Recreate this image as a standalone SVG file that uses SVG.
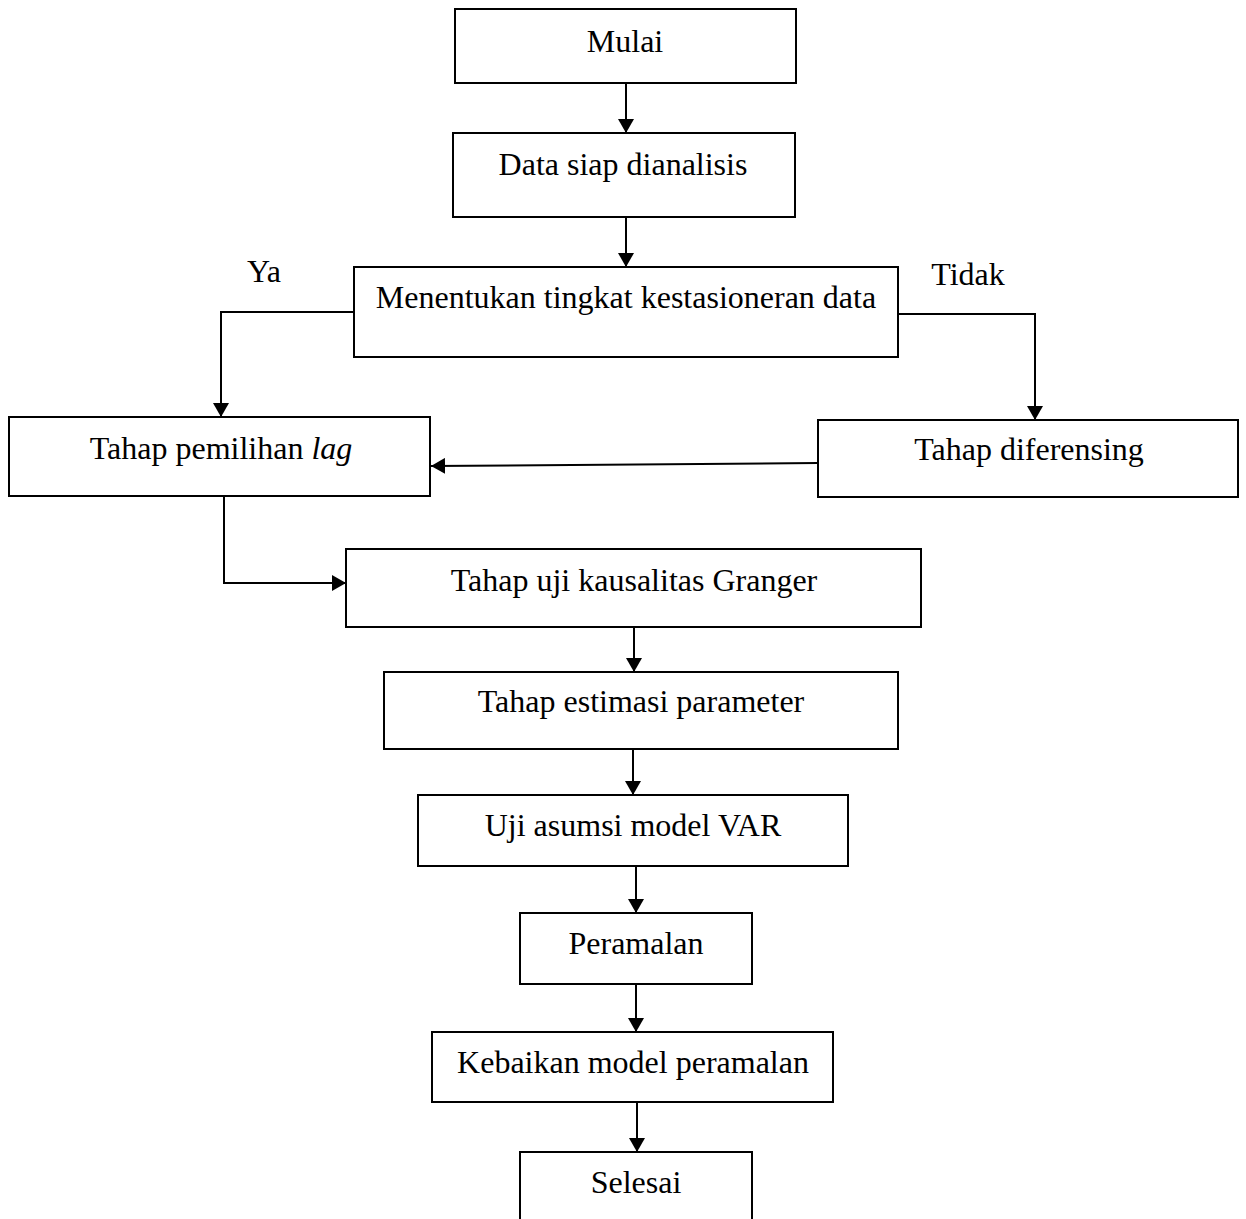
<svg xmlns="http://www.w3.org/2000/svg" width="1246" height="1219" viewBox="0 0 1246 1219">
<style>
.box{fill:#fff;stroke:#000;stroke-width:2}
.lbl{font-family:"Liberation Serif","Times New Roman",serif;font-size:32px;fill:#000;text-anchor:middle}
.edge{fill:none;stroke:#000;stroke-width:2;marker-end:url(#ah)}
</style>
<defs>
<marker id="ah" viewBox="0 0 14 16" markerWidth="14" markerHeight="16" refX="14" refY="8" orient="auto" markerUnits="userSpaceOnUse">
<path d="M0,0 L14,8 L0,16 z" fill="#000"/>
</marker>
</defs>
<rect width="1246" height="1219" fill="#fff"/>
<g id="nodes">
<g id="mulai"><rect class="box" x="455" y="9" width="341" height="74"/><text class="lbl" x="625" y="52">Mulai</text></g>
<g id="data"><rect class="box" x="453" y="133" width="342" height="84"/><text class="lbl" x="623" y="175">Data siap dianalisis</text></g>
<g id="menentukan"><rect class="box" x="354" y="267" width="544" height="90"/><text class="lbl" x="626" y="308">Menentukan tingkat kestasioneran data</text></g>
<g id="lag"><rect class="box" x="9" y="417" width="421" height="79"/><text class="lbl" x="221" y="459">Tahap pemilihan <tspan font-style="italic">lag</tspan></text></g>
<g id="diferensing"><rect class="box" x="818" y="420" width="420" height="77"/><text class="lbl" x="1029" y="460">Tahap diferensing</text></g>
<g id="granger"><rect class="box" x="346" y="549" width="575" height="78"/><text class="lbl" x="634" y="591">Tahap uji kausalitas Granger</text></g>
<g id="estimasi"><rect class="box" x="384" y="672" width="514" height="77"/><text class="lbl" x="641" y="712">Tahap estimasi parameter</text></g>
<g id="uji"><rect class="box" x="418" y="795" width="430" height="71"/><text class="lbl" x="633" y="836">Uji asumsi model VAR</text></g>
<g id="peramalan"><rect class="box" x="520" y="913" width="232" height="71"/><text class="lbl" x="636" y="954">Peramalan</text></g>
<g id="kebaikan"><rect class="box" x="432" y="1032" width="401" height="70"/><text class="lbl" x="633" y="1073">Kebaikan model peramalan</text></g>
<g id="selesai"><rect class="box" x="520" y="1152" width="232" height="80"/><text class="lbl" x="636" y="1193">Selesai</text></g>
</g>
<g id="connectors">
<path class="edge" d="M626,83 V133"/>
<path class="edge" d="M626,217 V267"/>
<path class="edge" d="M354,312 H221 V417"/>
<path class="edge" d="M898,314 H1035 V420"/>
<path class="edge" d="M818,463 L431,466"/>
<path class="edge" d="M224,496 V583 H346"/>
<path class="edge" d="M634,627 V672"/>
<path class="edge" d="M633,749 V795"/>
<path class="edge" d="M636,866 V913"/>
<path class="edge" d="M636,984 V1032"/>
<path class="edge" d="M637,1102 V1152"/>
<text class="lbl" x="264" y="282">Ya</text>
<text class="lbl" x="968" y="285">Tidak</text>
</g>
</svg>
